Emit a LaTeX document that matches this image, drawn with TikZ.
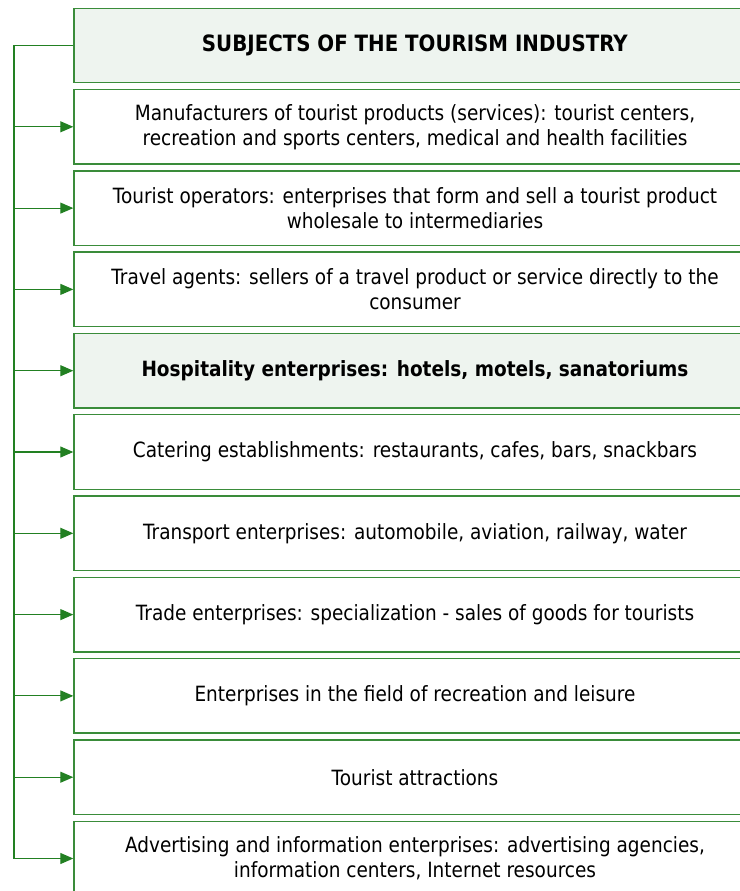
\documentclass[tikz,border=0pt]{standalone}
\usepackage{fontspec}
\setmainfont{DejaVu Sans}[FakeStretch=0.88]
\usepackage{xcolor}
\usetikzlibrary{arrows.meta}
\definecolor{lgreen}{RGB}{34,128,34}
\definecolor{lline}{RGB}{58,140,58}
\definecolor{lfill}{RGB}{238,244,239}
\tikzset{
    subj/.style={draw=lline, line width=1.4pt, rectangle, minimum width=682pt, minimum height=74.5pt,
                 align=center, font=\fontsize{21}{25}\selectfont, inner sep=0pt},
    hl/.style={fill=lfill},
    bus/.style={draw=lgreen, line width=1.1pt},
    tip/.tip={Triangle[length=13pt,width=11pt]}}

\begin{document}
\begin{tikzpicture}[x=1pt,y=-1pt]
\useasboundingbox (0,0) rectangle (739,891);
\node[subj,hl] (s0) at (415,45.5) {\fontsize{22.5}{25}\selectfont\textbf{SUBJECTS OF THE TOURISM INDUSTRY}};
\node[subj] (s1) at (415,126.8) {Manufacturers of tourist products (services): tourist centers,\\recreation and sports centers, medical and health facilities};
\node[subj] (s2) at (415,208.1) {Tourist operators: enterprises that form and sell a tourist product\\wholesale to intermediaries};
\node[subj] (s3) at (415,289.4) {Travel agents: sellers of a travel product or service directly to the\\consumer};
\node[subj,hl] (s4) at (415,370.7) {\textbf{Hospitality enterprises: hotels, motels, sanatoriums}};
\node[subj] (s5) at (415,452.0) {Catering establishments: restaurants, cafes, bars, snackbars};
\node[subj] (s6) at (415,533.3) {Transport enterprises: automobile, aviation, railway, water};
\node[subj] (s7) at (415,614.6) {Trade enterprises: specialization - sales of goods for tourists};
\node[subj] (s8) at (415,695.9) {Enterprises in the field of recreation and leisure};
\node[subj] (s9) at (415,777.2) {Tourist attractions};
\node[subj] (s10) at (415,858.5) {Advertising and information enterprises: advertising agencies,\\information centers, Internet resources};

% vertical line on the left
\coordinate (b0) at (14,45.5);
\coordinate (b10) at (14,858.5);
\draw[bus] (s0.west) -- (b0) -- (b10);
\draw[bus,-tip] (14,126.8) -- (s1.west);
\draw[bus,-tip] (14,208.1) -- (s2.west);
\draw[bus,-tip] (14,289.4) -- (s3.west);
\draw[bus,-tip] (14,370.7) -- (s4.west);
\draw[bus,-tip] (14,452.0) -- (s5.west);
\draw[bus,-tip] (14,533.3) -- (s6.west);
\draw[bus,-tip] (14,614.6) -- (s7.west);
\draw[bus,-tip] (14,695.9) -- (s8.west);
\draw[bus,-tip] (14,777.2) -- (s9.west);
\draw[bus,-tip] (b10) -- (s10.west);
\end{tikzpicture}
\end{document}
